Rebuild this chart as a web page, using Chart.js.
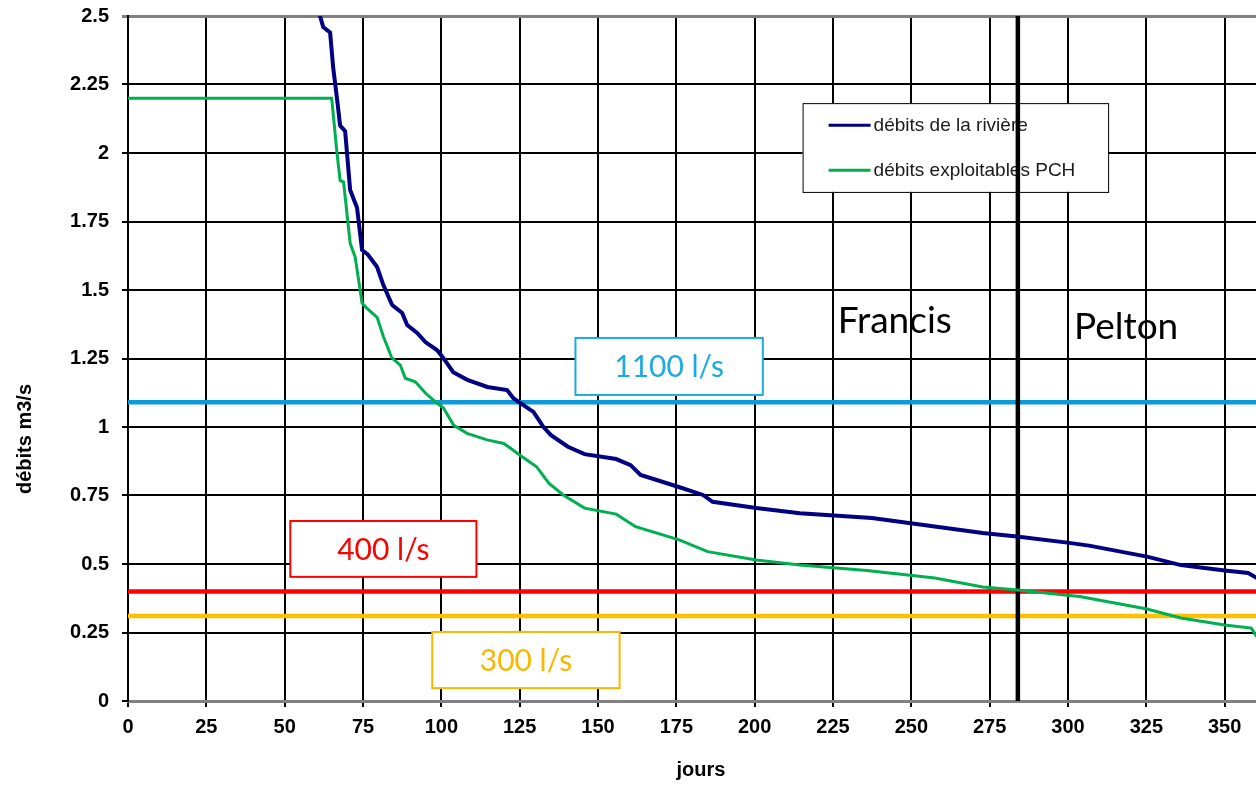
<!DOCTYPE html>
<html lang="fr">

<head>
    <meta charset="UTF-8">
    <title>Débits classés | Francis / Pelton</title>
    <script src="https://cdn.jsdelivr.net/npm/chart.js"></script>
    <style>
        body { margin: 0; background: #fff; }
        canvas { display: block; }
    </style>
</head>

<body>
    <canvas id="graficoDebits" width="1256" height="785"></canvas>

<script>
    // courbe des débits classés de la rivière (jours, m3/s)
    var joursRiviere = [0, 20, 40, 55, 61.3, 62.3, 64.5, 65.5, 66.8, 67.7, 69.3, 70.9, 73.1, 74.7, 76.5, 79.5, 81.5,
        84.3, 87.5, 89.1, 92.3, 94.9, 98.7, 100.6, 103.8, 108.3, 114.7, 121, 123, 125, 129.4, 132.6, 135, 140.4,
        145.7, 155.8, 160.4, 163.6, 175.8, 183.5, 186.6, 200.5, 214.4, 237.4, 249.8, 272.8, 283.7, 299.8, 306.7,
        325.2, 336, 350, 357.5, 360.3];
    var debitsRiviere = [5.2, 3.6, 2.9, 2.62, 2.5, 2.46, 2.44, 2.31, 2.19, 2.10, 2.08, 1.865, 1.80, 1.646, 1.63, 1.584,
        1.518, 1.445, 1.416, 1.372, 1.343, 1.31, 1.28, 1.252, 1.20, 1.172, 1.146, 1.135, 1.105, 1.089, 1.055, 1.0,
        0.97, 0.928, 0.901, 0.883, 0.861, 0.825, 0.781, 0.752, 0.727, 0.704, 0.685, 0.668, 0.649, 0.613, 0.600,
        0.578, 0.567, 0.527, 0.496, 0.476, 0.467, 0.449];

    // débits exploitables par la PCH
    var joursPCH = [0, 65, 65.6, 66.7, 67.7, 68.8, 70.9, 72.5, 74.7, 76.2, 79.5, 81.5, 84.2, 86.9, 88.5, 91.7, 94.9,
        98.6, 100.7, 103.9, 108.2, 114.6, 119.9, 122, 125, 130.4, 134.3, 138.9, 145.7, 155.8, 162, 175.9, 185,
        200.5, 214.4, 235.8, 257.5, 272.8, 283.7, 303.7, 325.2, 336, 350, 358.5, 360.3];
    var debitsPCH = [2.2, 2.2, 2.13, 2.0, 1.90, 1.894, 1.671, 1.62, 1.452, 1.434, 1.40, 1.33, 1.252, 1.226, 1.178,
        1.165, 1.124, 1.087, 1.069, 1.007, 0.977, 0.953, 0.94, 0.923, 0.898, 0.855, 0.795, 0.752, 0.704, 0.682,
        0.636, 0.588, 0.545, 0.515, 0.496, 0.476, 0.449, 0.416, 0.405, 0.381, 0.336, 0.303, 0.277, 0.266, 0.234];

    // seuils horizontaux (m3/s)
    var seuilValeurs = [1.09, 0.40, 0.31];
    var seuilTextes = ['1100 l/s', '400 l/s', '300 l/s'];
    var seuilCouleurs = ['#0C9AD9', '#FF0000', '#FFC000'];
    var seuilCouleursTexte = ['#1DA9E1', '#FF0000', '#F8B800'];

    // séparation Francis / Pelton
    var jourSeparation = 284;

    var jourMax = 360;
    var debitMax = 2.5;

    function pontos(xs, ys) {
        return xs.map(function (x, i) { return { x: x, y: ys[i] }; });
    }

    var datasets = [
        {
            label: 'débits de la rivière',
            data: pontos(joursRiviere, debitsRiviere),
            borderColor: '#000080',
            borderWidth: 4,
            order: 0,
            clip: 0
        },
        {
            label: 'débits exploitables PCH',
            data: pontos(joursPCH, debitsPCH),
            borderColor: '#00B050',
            borderWidth: 3,
            order: 0,
            clip: 0
        },
        {
            label: 'séparation',
            data: [{ x: jourSeparation, y: 0 }, { x: jourSeparation, y: debitMax }],
            borderColor: '#000',
            borderWidth: 4.5,
            order: 1
        }
    ];

    seuilValeurs.forEach(function (v, i) {
        datasets.push({
            label: seuilTextes[i],
            data: [{ x: 0, y: v }, { x: jourMax, y: v }],
            borderColor: seuilCouleurs[i],
            borderWidth: 4.5,
            order: 2,
            clip: 0
        });
    });

    // boîtes de texte des seuils, en unités du graphique
    var boites = [
        { x0: 142.8, x1: 202.6, y0: 1.325, y1: 1.117 },
        { x0: 51.8, x1: 111.2, y0: 0.657, y1: 0.453 },
        { x0: 97.1, x1: 156.9, y0: 0.252, y1: 0.047 }
    ];

    const annotations = {
        id: 'annotations',
        beforeDatasetsDraw(chart) {
            const ctx = chart.ctx;
            const sx = chart.scales.x;
            const sy = chart.scales.y;
            ctx.save();

            boites.forEach(function (b, i) {
                const x0 = sx.getPixelForValue(b.x0), x1 = sx.getPixelForValue(b.x1);
                const y0 = sy.getPixelForValue(b.y0), y1 = sy.getPixelForValue(b.y1);
                ctx.fillStyle = '#fff';
                ctx.fillRect(x0, y0, x1 - x0, y1 - y0);
                ctx.strokeStyle = seuilCouleursTexte[i];
                ctx.lineWidth = 2;
                ctx.strokeRect(x0, y0, x1 - x0, y1 - y0);
                ctx.fillStyle = seuilCouleursTexte[i];
                ctx.font = '30px Lato';
                ctx.textAlign = 'center';
                ctx.textBaseline = 'middle';
                ctx.fillText(seuilTextes[i], (x0 + x1) / 2, (y0 + y1) / 2 + 1);
            });

            // légende
            const lx0 = sx.getPixelForValue(215.3), lx1 = sx.getPixelForValue(312.8);
            const ly0 = sy.getPixelForValue(2.182), ly1 = sy.getPixelForValue(1.858);
            ctx.fillStyle = '#fff';
            ctx.fillRect(lx0, ly0, lx1 - lx0, ly1 - ly0);
            ctx.strokeStyle = '#000';
            ctx.lineWidth = 1;
            ctx.strokeRect(lx0 + 0.5, ly0 + 0.5, lx1 - lx0, ly1 - ly0);
            [datasets[0], datasets[1]].forEach(function (d, i) {
                const yy = ly0 + 22 + i * 45;
                ctx.strokeStyle = d.borderColor;
                ctx.lineWidth = 3;
                ctx.beginPath();
                ctx.moveTo(lx0 + 26, yy);
                ctx.lineTo(lx0 + 68, yy);
                ctx.stroke();
                ctx.fillStyle = '#1a1a1a';
                ctx.font = '19px "Liberation Sans"';
                ctx.textAlign = 'left';
                ctx.textBaseline = 'middle';
                ctx.fillText(d.label, lx0 + 71, yy + 1);
            });

            // Francis / Pelton
            ctx.fillStyle = '#000';
            ctx.font = '37px Lato';
            ctx.textAlign = 'left';
            ctx.textBaseline = 'alphabetic';
            ctx.fillText('Francis', sx.getPixelForValue(226.5), sy.getPixelForValue(1.343));
            ctx.fillText('Pelton', sx.getPixelForValue(301.9), sy.getPixelForValue(1.321));

            ctx.restore();
        },
        afterDraw(chart) {
            const ctx = chart.ctx;
            const area = chart.chartArea;
            ctx.save();
            ctx.fillStyle = '#000';
            ctx.font = 'bold 20px "Liberation Sans"';
            ctx.textAlign = 'center';
            // titre de l'axe x
            ctx.textBaseline = 'alphabetic';
            ctx.fillText('jours', area.left + 573, 776);
            // titre de l'axe y
            ctx.translate(25, area.top + 423);
            ctx.rotate(-Math.PI / 2);
            ctx.textBaseline = 'middle';
            ctx.fillText('débits m3/s', 0, 0);
            ctx.restore();
        }
    };

    const config = {
        type: 'line',
        data: { datasets: datasets },
        options: {
            responsive: false,
            animation: false,
            elements: {
                point: { radius: 0 },
                line: { tension: 0 }
            },
            layout: { padding: { top: 16, right: 0, left: 0, bottom: 0 } },
            plugins: {
                legend: { display: false },
                tooltip: { enabled: false }
            },
            scales: {
                x: {
                    type: 'linear',
                    min: 0,
                    max: jourMax,
                    afterFit: function (s) {
                        s.height = 84;
                        s.paddingLeft = 0;
                        s.paddingRight = 0;
                    },
                    ticks: {
                        stepSize: 25,
                        includeBounds: false,
                        color: '#000',
                        padding: 8,
                        maxRotation: 0,
                        autoSkip: false,
                        font: { family: 'Liberation Sans', size: 20, weight: 'bold' }
                    },
                    grid: { color: '#000', lineWidth: 2, tickLength: 6 },
                    border: { color: '#808080', width: 3 }
                },
                y: {
                    min: 0,
                    max: debitMax,
                    afterFit: function (s) {
                        s.width = 128;
                        s.paddingTop = 0;
                        s.paddingBottom = 0;
                    },
                    ticks: {
                        stepSize: 0.25,
                        color: '#000',
                        padding: 13,
                        callback: function (v) { return String(Number(v.toFixed(2))); },
                        font: { family: 'Liberation Sans', size: 20, weight: 'bold' }
                    },
                    grid: {
                        color: function (c) { return c.tick && c.tick.value === debitMax ? '#808080' : '#000'; },
                        lineWidth: function (c) { return c.tick && c.tick.value === debitMax ? 3 : 2; },
                        tickLength: 6
                    },
                    border: { color: '#000', width: 2 }
                }
            }
        },
        plugins: [annotations]
    };

    const graficoDebits = new Chart(document.getElementById('graficoDebits'), config);
</script>
</body>

</html>
